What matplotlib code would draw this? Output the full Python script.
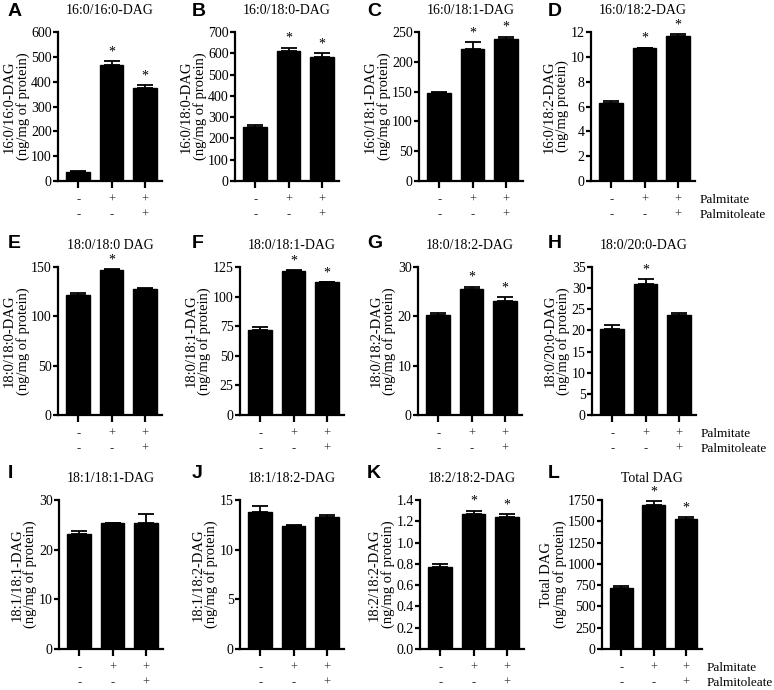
import matplotlib
matplotlib.use("Agg")
import matplotlib.pyplot as plt
import numpy as np

plt.rcParams['font.family'] = ['Liberation Serif', 'DejaVu Serif']

# panel data
letters = list("ABCDEFGHIJKL")
titles = ["16:0/16:0-DAG", "16:0/18:0-DAG", "16:0/18:1-DAG", "16:0/18:2-DAG",
          "18:0/18:0 DAG", "18:0/18:1-DAG", "18:0/18:2-DAG", "18:0/20:0-DAG",
          "18:1/18:1-DAG", "18:1/18:2-DAG", "18:2/18:2-DAG", "Total DAG"]
ylabels = ["16:0/16:0-DAG\n(ng/mg of protein)", "16:0/18:0-DAG\n(ng/mg of protein)",
           "16:0/18:1-DAG\n(ng/mg of protein)", "16:0/18:2-DAG\n(ng/mg protein)",
           "18:0/18:0-DAG\n(ng/mg of protein)", "18:0/18:1-DAG\n(ng/mg of protein)",
           "18:0/18:2-DAG\n(ng/mg of protein)", "18:0/20:0-DAG\n(ng/mg of protein)",
           "18:1/18:1-DAG\n(ng/mg of protein)", "18:1/18:2-DAG\n(ng/mg of protein)",
           "18:2/18:2-DAG\n(ng/mg of protein)", "Total DAG\n(ng/mg of protein)"]
means = [[37, 468, 376], [255, 612, 583], [147, 222, 239], [6.3, 10.7, 11.65],
         [122, 147, 128], [72, 122, 112], [20.3, 25.5, 23.2], [20.4, 30.9, 23.7],
         [23.2, 25.3, 25.3], [13.8, 12.4, 13.3], [0.77, 1.27, 1.24], [720, 1695, 1525]]
errs = [[2, 15, 9], [8, 15, 18], [3, 11, 3], [0.18, 0.05, 0.2],
        [2, 1, 1], [2, 0.5, 0.3], [0.4, 0.5, 0.7], [0.9, 1.3, 0.5],
        [0.6, 0.1, 1.8], [0.6, 0.05, 0.2], [0.03, 0.03, 0.03], [15, 40, 25]]
stars = [[0, 1, 1], [0, 1, 1], [0, 1, 1], [0, 1, 1],
         [0, 1, 0], [0, 1, 1], [0, 1, 1], [0, 1, 0],
         [0, 0, 0], [0, 0, 0], [0, 1, 1], [0, 1, 1]]
ymax = [600, 700, 250, 12, 150, 125, 30, 35, 30, 15, 1.4, 1750]
ystep = [100, 100, 50, 2, 50, 25, 10, 5, 10, 5, 0.2, 250]
palmitate = ["-", "+", "+"]
palmitoleate = ["-", "-", "+"]

# layout in pixels
W, H = 774, 690
lefts = [[58, 235, 419, 591], [58, 240, 418, 592], [59, 240, 420, 602]]
rows = [(32, 181), (267, 415), (500, 649)]
letter_x = [8, 192, 367, 548]
letter_y = [12, 243, 474]

fig = plt.figure(figsize=(W / 100, H / 100), dpi=100)
x = np.arange(3)

for i in range(12):
    r, c = divmod(i, 4)
    top, bot = rows[r]
    wid = 100 if (r == 2 and c == 3) else 104
    ax = fig.add_axes([lefts[r][c] / W, 1 - bot / H, wid / W, (bot - top) / H])

    m = np.array(means[i])
    e = np.array(errs[i])
    ax.bar(x, m, width=0.7, color='black', edgecolor='black', zorder=2)
    ax.errorbar(x, m, yerr=[np.zeros(3), e], fmt='none', ecolor='black',
                elinewidth=1.3, capsize=5.5, capthick=1.3, zorder=3)
    for j in range(3):
        if stars[i][j]:
            ax.annotate("*", xy=(j, m[j] + e[j]), xytext=(0, 2), textcoords='offset points',
                        ha='center', va='bottom', fontsize=10)

    ax.set_xlim(-0.6, 2.5)
    ax.set_ylim(0, ymax[i])
    ticks = np.arange(0, ymax[i] + ystep[i] / 2, ystep[i])
    ax.set_yticks(ticks)
    if i == 10:
        ax.set_yticklabels(["%.1f" % t for t in ticks])
    else:
        ax.set_yticklabels(["%d" % t for t in ticks])
    ax.set_xticks(x)
    ax.set_xticklabels([])
    for s in ['top', 'right']:
        ax.spines[s].set_visible(False)
    for s in ['left', 'bottom']:
        ax.spines[s].set_linewidth(1.6)
    ax.tick_params(axis='y', length=3.5, width=1.6, labelsize=10, pad=1)
    ax.tick_params(axis='x', length=5, width=1.6)

    ax.set_title(titles[i], fontsize=10, pad=13)
    ax.set_ylabel(ylabels[i], fontsize=10.5, labelpad=1, linespacing=1.0)

    for j in range(3):
        ax.annotate(palmitate[j], xy=(j, 0), xycoords=('data', 'axes fraction'),
                    xytext=(0, -13.5), textcoords='offset points',
                    ha='center', va='center', fontsize=9, color='#333333')
        ax.annotate(palmitoleate[j], xy=(j, 0), xycoords=('data', 'axes fraction'),
                    xytext=(0, -24.5), textcoords='offset points',
                    ha='center', va='center', fontsize=9, color='#333333')
    if c == 3:
        ax.annotate("Palmitate", xy=(1, 0), xycoords='axes fraction',
                    xytext=(3, -13.5), textcoords='offset points',
                    ha='left', va='center', fontsize=9.5)
        ax.annotate("Palmitoleate", xy=(1, 0), xycoords='axes fraction',
                    xytext=(3, -24.5), textcoords='offset points',
                    ha='left', va='center', fontsize=9.5)

    fig.text(letter_x[c] / W, 1 - letter_y[r] / H, letters[i], fontsize=14,
             fontweight='bold', family='Liberation Sans', ha='left', va='center')

fig.savefig("out.png", dpi=100)
